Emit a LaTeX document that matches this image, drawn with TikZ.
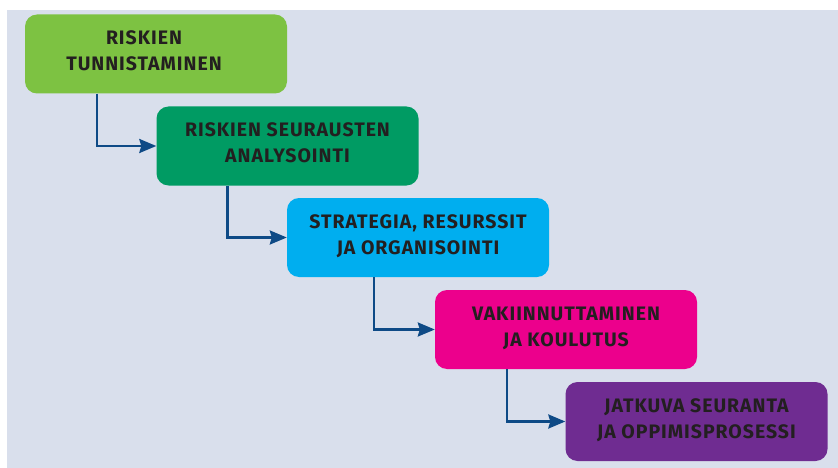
\documentclass[tikz,border=0pt]{standalone}
\usepackage{fontspec}
\setmainfont{Fira Sans}
\usetikzlibrary{arrows.meta}

\definecolor{tausta}{HTML}{D9DFEC}
\definecolor{teksti}{HTML}{231F20}
\definecolor{nuolisini}{HTML}{0E4A86}
\definecolor{vaaleanvihrea}{HTML}{7DC242}
\definecolor{tummanvihrea}{HTML}{009B63}
\definecolor{syaani}{HTML}{00AEEF}
\definecolor{magenta}{HTML}{EC008C}
\definecolor{violetti}{HTML}{6F2C91}

\begin{document}
\begin{tikzpicture}[x=1pt, y=-1pt,
  vaihe/.style={rounded corners=12pt, minimum width=262pt, minimum height=79pt,
    inner sep=0pt, align=center, text=teksti, text depth=6pt,
    font=\fontsize{19.5}{26}\selectfont\bfseries\addfontfeature{LetterSpace=5}},
  nuoli/.style={draw=nuolisini, line width=2.4pt,
    -{Stealth[length=17pt, width=14pt, inset=2pt]}}]

  % ── tausta ──
  \fill[tausta] (7,10) rectangle (838,468);

  % ── viisi vaihetta ──
  \node[vaihe, fill=vaaleanvihrea] (tunnistus) at (156,54)    {RISKIEN\hspace*{24pt}\\TUNNISTAMINEN\hspace*{24pt}};
  \node[vaihe, fill=tummanvihrea]  (analyysi)  at (287.5,146) {RISKIEN SEURAUSTEN\\ANALYSOINTI};
  \node[vaihe, fill=syaani]        (strategia) at (418,237.5) {STRATEGIA, RESURSSIT\\JA ORGANISOINTI};
  \node[vaihe, fill=magenta]       (koulutus)  at (566,329.5) {VAKIINNUTTAMINEN\\JA KOULUTUS};
  \node[vaihe, fill=violetti]      (seuranta)  at (696.5,421.5) {JATKUVA SEURANTA\\JA OPPIMISPROSESSI};

  % ── nuolet portaittain ──
  \draw[nuoli] ([xshift=72pt]tunnistus.south west) |- (analyysi.west);
  \draw[nuoli] ([xshift=71pt]analyysi.south west)  |- (strategia.west);
  \draw[nuoli] ([xshift=87pt]strategia.south west) |- (koulutus.west);
  \draw[nuoli] ([xshift=72pt]koulutus.south west)  |- (seuranta.west);

  \path[use as bounding box] (0,0) rectangle (838,468);
\end{tikzpicture}
\end{document}
